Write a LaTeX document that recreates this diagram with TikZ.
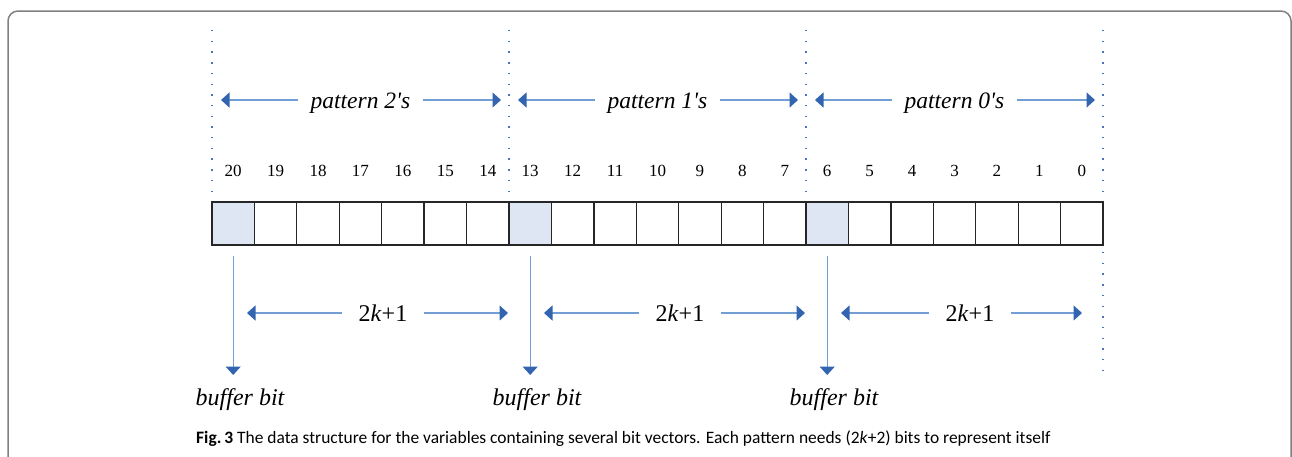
\documentclass[tikz,border=0pt]{standalone}
\usepackage{fontspec}
\setmainfont{Liberation Serif}
\newfontfamily\capfont{Carlito}
\usetikzlibrary{arrows.meta,positioning}
\definecolor{guideblue}{RGB}{70,115,190}
\definecolor{lineblue}{RGB}{115,158,212}
\definecolor{headblue}{RGB}{50,100,175}
\definecolor{bufgray}{RGB}{222,230,244}
\definecolor{framegray}{RGB}{128,128,128}
\tikzset{
    cell/.style={rectangle, draw=black!85, line width=1.3pt, minimum width=42.43pt, minimum height=43pt, inner sep=0, outer sep=0},
    bufcell/.style={cell, fill=bufgray},
    bitnum/.style={font=\fontsize{17}{20}\selectfont, anchor=base, inner sep=0},
    lbl/.style={font=\fontsize{23.5}{28}\selectfont\itshape, anchor=base, inner sep=0},
    guide/.style={guideblue, line width=1.4pt, dash pattern=on 1.4pt off 9.3pt},
    dim/.style={lineblue, line width=1.4pt, -{Triangle[length=8.5pt, width=15pt, color=headblue]}},
}

\begin{document}
\begin{tikzpicture}[x=1pt, y=-1pt]
    \useasboundingbox (0,0) rectangle (1292,456);
    % outer frame
    \draw[framegray, line width=1.5pt, rounded corners=10pt] (8,470) -- (8,11) -- (1291,11) -- (1291,470);

    % bit cells with their numbers
    \foreach \b in {20,...,0}{
        \pgfmathtruncatemacro{\i}{20-\b}
        \pgfmathtruncatemacro{\r}{mod(\i,7)}
        \ifnum\r=0 \def\cs{bufcell}\else\def\cs{cell}\fi
        \node[\cs] (c\b) at ({233.2+42.43*\i},223.5) {};
        \node[bitnum] (n\b) at ({233.2+42.43*\i},176) {\b};
    }

    % pattern boundaries
    \coordinate (g3) at (1103,30);
    \coordinate (g3b) at (1103,252);
    \draw[guide] (g3b) -- (1103,372);

    \foreach \g/\x/\r/\t in {2/212/508/383, 1/509/805/680, 0/806/1082/970}{
        \coordinate (gt\g) at (\x,30);
        \draw[guide] (gt\g) -- (\x,201);
        % pattern span
        \node[lbl, inner xsep=12pt] (p\g) at (\x+148.5,108) {pattern \g\textquotesingle s};
        \coordinate (pl\g) at (\x+9,100);
        \coordinate (pr\g) at (\x+289,100);
        \draw[dim] (p\g.west |- pl\g) -- (pl\g);
        \draw[dim] (p\g.east |- pr\g) -- (pr\g);
        % 2k+1 span
        \node[lbl, font=\fontsize{24}{28}\selectfont, inner xsep=17pt] (w\g) at (\t,321.7) {2\textit{k}+1};
        \coordinate (wl\g) at (\x+35,313);
        \coordinate (wr\g) at (\r,313);
        \draw[dim] (w\g.west |- wl\g) -- (wl\g);
        \draw[dim] (w\g.east |- wr\g) -- (wr\g);
        % buffer bit
        \node[lbl, font=\fontsize{24}{28}\selectfont\itshape] (b\g) at (\x+28,405.7) {buffer bit};
        \coordinate (bt\g) at (\x+21.2,256);
        \coordinate (bh\g) at (\x+21.2,375);
        \draw[dim] (bt\g) -- (bh\g);
    }
    \draw[guide] (g3) -- (1103,201);

    \node[anchor=base west, inner sep=0, font=\capfont\fontsize{17.45}{20}\selectfont] (cap) at (196,443)
        {\textbf{Fig.\,3} The data structure for the variables containing several bit vectors. Each pattern needs (2\textit{k}+2) bits to represent itself};
\end{tikzpicture}
\end{document}
